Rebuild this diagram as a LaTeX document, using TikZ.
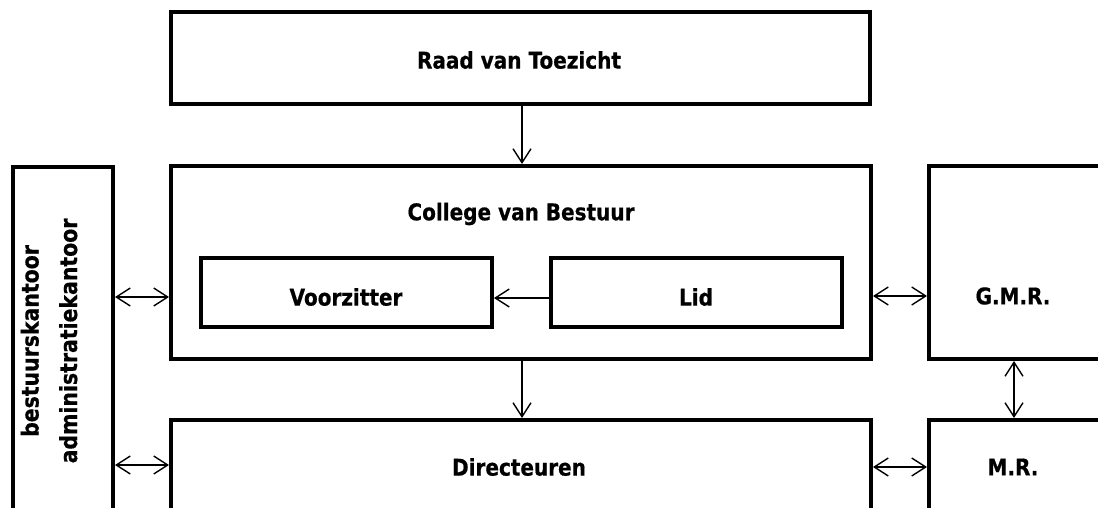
\documentclass[tikz,border=0pt]{standalone}
\usepackage{fontspec}
\newfontfamily\lblfont{DejaVu Sans}[FakeStretch=0.87,FakeBold=0.6]
\usetikzlibrary{arrows.meta}
\begin{document}
\begin{tikzpicture}[x=1pt,y=-1pt,
  box/.style={draw=black,line width=4pt,fill=white,inner sep=0pt},
  lbl/.style={inner sep=0pt,font=\lblfont\bfseries\fontsize{23}{27}\selectfont},
  arr/.style={line width=1.4pt,-{Straight Barb[length=14pt,width=18pt,line width=1.4pt]}},
  darr/.style={line width=1.4pt,{Straight Barb[length=14pt,width=18pt,line width=1.4pt]}-{Straight Barb[length=14pt,width=18pt,line width=1.4pt]}}]
\useasboundingbox (0,0) rectangle (1098,508);
\node[box,minimum width=699pt,minimum height=92pt] (raad) at (520.5,58) {};
\node[lbl] (raadt) at (519,60) {Raad van Toezicht};
\node[box,minimum width=700pt,minimum height=193pt] (cvb) at (521,262.5) {};
\node[lbl] (cvbt) at (521,214) {College van Bestuur};
\node[box,minimum width=291pt,minimum height=69pt] (voorz) at (346.5,292.5) {};
\node[lbl] (voorzt) at (346,297) {Voorzitter};
\node[box,minimum width=291pt,minimum height=69pt] (lid) at (696.5,292.5) {};
\node[lbl] (lidt) at (696,297) {Lid};
\node[box,minimum width=100pt,minimum height=348pt] (bk) at (63,341) {};
\node[font=\lblfont\bfseries\fontsize{23.5}{38.5}\selectfont,rotate=90,align=center] (bkt) at (49,341) {bestuurskantoor\\administratiekantoor};
\node[box,minimum width=172pt,minimum height=193pt] (gmr) at (1015,262.5) {};
\node[lbl] (gmrt) at (1013,296) {G.M.R.};
\node[box,minimum width=700pt,minimum height=94pt] (dir) at (521,467) {};
\node[lbl] (dirt) at (519,467) {Directeuren};
\node[box,minimum width=172pt,minimum height=94pt] (mr) at (1015,467) {};
\node[lbl] (mrt) at (1013,467) {M.R.};
\draw[arr] (raad.south -| 522,0) -- (cvb.north -| 522,0);
\draw[arr] (cvb.south -| 522,0) -- (dir.north -| 522,0);
\draw[arr] (lid.west |- 0,298) -- (voorz.east |- 0,298);
\draw[darr] (bk.east |- 0,297) -- (cvb.west |- 0,297);
\draw[darr] (bk.east |- 0,465) -- (dir.west |- 0,465);
\draw[darr] (cvb.east |- 0,296) -- (gmr.west |- 0,296);
\draw[darr] (dir.east |- 0,467) -- (mr.west |- 0,467);
\draw[darr] (gmr.south -| 1014,0) -- (mr.north -| 1014,0);
\end{tikzpicture}
\end{document}
